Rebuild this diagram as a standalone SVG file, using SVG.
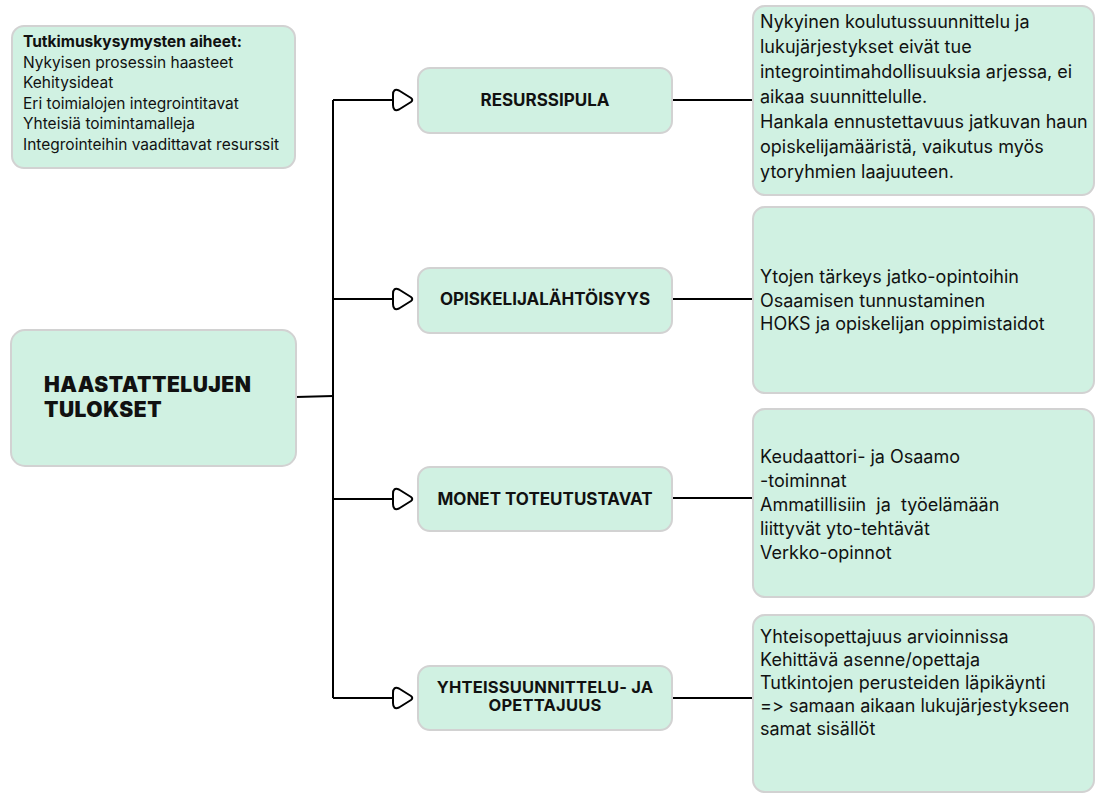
<svg xmlns="http://www.w3.org/2000/svg" width="1096" height="794" viewBox="0 0 1096 794">
<defs>
<style>
.box{fill:#d0f1e2;stroke:#d2d2d2;stroke-width:2}
.t{font-family:Inter,"Liberation Sans",sans-serif;fill:#111;font-feature-settings:"calt" 0,"liga" 0;font-variant-ligatures:none}
.reg{font-size:18px}
.small{font-size:15.5px}
.mid{font-size:17px;font-weight:700;text-anchor:middle}
.mid2{font-size:16.5px;font-weight:700;text-anchor:middle;letter-spacing:0.2px}
.big{font-size:21px;font-weight:900;letter-spacing:0.5px}
.ln{fill:none;stroke:#000;stroke-width:2}
.mk{fill:#fff;stroke:#000;stroke-width:2;stroke-linejoin:round}
</style>
<path id="mk" class="mk" d="M -14 -9.5 Q -20 -12 -20 -5 L -20 5 Q -20 12 -14 9.5 L -2 2 Q 0.5 0 -2 -2 Z"/>
</defs>
<rect width="1096" height="794" fill="#fff"/>
<g id="connectors">
<path class="ln" d="M 333 100 V 698"/>
<path class="ln" d="M 296 397 L 333 396"/>
<path class="ln" d="M 333 100 H 393 M 333 299 H 393 M 333 499 H 393 M 333 698 H 393"/>
<path class="ln" d="M 672 100 H 753 M 672 299 H 753 M 672 498 H 753 M 672 698 H 753"/>
<use href="#mk" x="413" y="100"/>
<use href="#mk" x="413" y="299"/>
<use href="#mk" x="413" y="499"/>
<use href="#mk" x="413" y="698"/>
</g>
<g id="topics">
<rect class="box" x="12" y="26" width="283" height="142" rx="12"/>
<text class="t small" x="23" y="47"><tspan font-weight="700">Tutkimuskysymysten aiheet:</tspan><tspan x="23" dy="20.6">Nykyisen prosessin haasteet</tspan><tspan x="23" dy="20.6">Kehitysideat</tspan><tspan x="23" dy="20.6">Eri toimialojen integrointitavat</tspan><tspan x="23" dy="20.6">Yhteisiä toimintamalleja</tspan><tspan x="23" dy="20.6">Integrointeihin vaadittavat resurssit</tspan></text>
</g>
<g id="root">
<rect class="box" x="11" y="330" width="285" height="136" rx="14"/>
<text class="t big" x="44" y="392">HAASTATTELUJEN</text>
<text class="t big" x="44" y="417">TULOKSET</text>
</g>
<g id="resurssipula">
<rect class="box" x="418" y="68" width="254" height="65" rx="12"/>
<text class="t mid" x="545" y="106">RESURSSIPULA</text>
</g>
<g id="opiskelija">
<rect class="box" x="418" y="268" width="254" height="65" rx="12"/>
<text class="t mid" x="545" y="305">OPISKELIJALÄHTÖISYYS</text>
</g>
<g id="monet">
<rect class="box" x="418" y="467" width="254" height="64" rx="12"/>
<text class="t mid" x="545" y="505">MONET TOTEUTUSTAVAT</text>
</g>
<g id="yhteis">
<rect class="box" x="418" y="666" width="254" height="64" rx="12"/>
<text class="t mid2" x="545" y="693">YHTEISSUUNNITTELU- JA</text>
<text class="t mid2" x="545" y="711">OPETTAJUUS</text>
</g>
<g id="detail1">
<rect class="box" x="753" y="6" width="341" height="189" rx="12"/>
<text class="t reg" x="760" y="28"><tspan>Nykyinen koulutussuunnittelu ja</tspan><tspan x="760" dy="25">lukujärjestykset eivät tue</tspan><tspan x="760" dy="25">integrointimahdollisuuksia arjessa, ei</tspan><tspan x="760" dy="25">aikaa suunnittelulle.</tspan><tspan x="760" dy="25">Hankala ennustettavuus jatkuvan haun</tspan><tspan x="760" dy="25">opiskelijamääristä, vaikutus myös</tspan><tspan x="760" dy="25">ytoryhmien laajuuteen.</tspan></text>
</g>
<g id="detail2">
<rect class="box" x="753" y="207" width="341" height="186" rx="12"/>
<text class="t reg" x="760" y="283"><tspan>Ytojen tärkeys jatko-opintoihin</tspan><tspan x="760" dy="23.5">Osaamisen tunnustaminen</tspan><tspan x="760" dy="23.5">HOKS ja opiskelijan oppimistaidot</tspan></text>
</g>
<g id="detail3">
<rect class="box" x="753" y="409" width="341" height="188" rx="12"/>
<text class="t reg" x="760" y="463" xml:space="preserve"><tspan>Keudaattori- ja Osaamo</tspan><tspan x="760" dy="24">-toiminnat</tspan><tspan x="760" dy="24">Ammatillisiin  ja  työelämään</tspan><tspan x="760" dy="24">liittyvät yto-tehtävät</tspan><tspan x="760" dy="24">Verkko-opinnot</tspan></text>
</g>
<g id="detail4">
<rect class="box" x="753" y="615" width="341" height="177" rx="12"/>
<text class="t reg" x="760" y="643"><tspan>Yhteisopettajuus arvioinnissa</tspan><tspan x="760" dy="23">Kehittävä asenne/opettaja</tspan><tspan x="760" dy="23">Tutkintojen perusteiden läpikäynti</tspan><tspan x="760" dy="23">=&gt; samaan aikaan lukujärjestykseen</tspan><tspan x="760" dy="23">samat sisällöt</tspan></text>
</g>
</svg>
